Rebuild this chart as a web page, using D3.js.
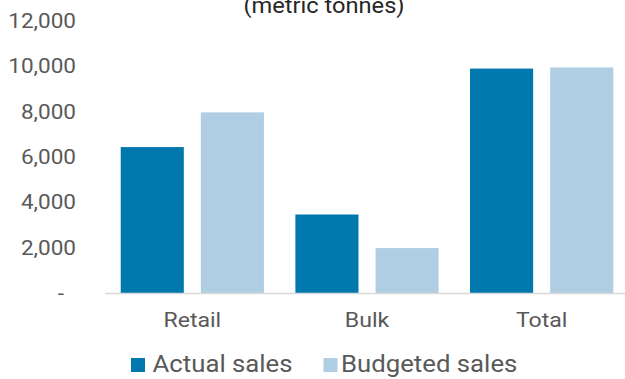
<!DOCTYPE html>
<html>
<head>
<meta charset="utf-8">
<script src="https://cdn.jsdelivr.net/npm/d3@7"></script>
<style>
  html, body { margin: 0; padding: 0; background: #fff; }
  svg { display: block; font-family: Roboto, "Noto Sans", sans-serif; }
</style>
</head>
<body>
<svg id="chart" width="625" height="379"></svg>
<script>
// Sales volume by channel, metric tonnes
const categories = ["Retail", "Bulk", "Total"];
const seriesNames = ["Actual sales", "Budgeted sales"];
const actualSales = [6430, 3460, 9890];
const budgetedSales = [7960, 1980, 9940];
const yTicks = [0, 2000, 4000, 6000, 8000, 10000, 12000];

const colors = ["#0077ad", "#b0cee3"];
const seriesValues = [actualSales, budgetedSales];

// text is set slightly wide
const WIDE = "scale(1.1,1)";

const svg = d3.select("#chart");

const x0 = d3.scaleBand()
  .domain(categories)
  .range([105, 629])
  .paddingInner(0.18)
  .paddingOuter(0.09);

const x1 = d3.scaleBand()
  .domain(seriesNames)
  .range([0, x0.bandwidth()])
  .paddingInner(0.2125)
  .paddingOuter(0);

const y = d3.scaleLinear()
  .domain([0, 12000])
  .range([293, 20.7]);

// Title (second line of the heading)
svg.append("g")
  .attr("transform", "translate(324,12.7)")
  .append("text")
  .attr("transform", WIDE)
  .attr("text-anchor", "middle")
  .attr("font-size", 21.5)
  .attr("fill", "#262626")
  .text("(metric tonnes)");

// Y axis labels, zero shown as a dash
const fmt = d3.format(",");
const yAxis = d3.axisLeft(y)
  .tickValues(yTicks)
  .tickSize(0)
  .tickPadding(0)
  .tickFormat(d => d === 0 ? "-" : fmt(d));

const yg = svg.append("g")
  .attr("transform", "translate(76,0)")
  .call(yAxis);
yg.select(".domain").remove();
yg.selectAll("text")
  .attr("font-size", 20.5)
  .attr("font-family", "Roboto, sans-serif")
  .attr("fill", "#595959")
  .attr("transform", WIDE)
  .attr("dx", d => d === 0 ? -11 : 0);

// Bars
const groups = svg.append("g")
  .selectAll("g")
  .data(categories)
  .join("g")
  .attr("transform", d => `translate(${x0(d)},0)`);

groups.selectAll("rect")
  .data((c, i) => seriesNames.map((s, j) => ({ series: s, value: seriesValues[j][i], color: colors[j] })))
  .join("rect")
  .attr("x", d => x1(d.series))
  .attr("y", d => y(d.value))
  .attr("width", x1.bandwidth())
  .attr("height", d => y(0) - y(d.value))
  .attr("fill", d => d.color);

// Category axis
const xAxis = d3.axisBottom(x0).tickSize(0).tickPadding(0);
const xg = svg.append("g")
  .attr("transform", `translate(0,${y(0)})`)
  .call(xAxis);
xg.select(".domain")
  .attr("d", "M105,0.5H625")
  .attr("stroke", "#d9d9d9")
  .attr("stroke-width", 1.5);
xg.selectAll("text")
  .attr("font-size", 21)
  .attr("font-family", "Roboto, sans-serif")
  .attr("fill", "#595959")
  .attr("dy", 0)
  .attr("y", 34)
  .attr("transform", WIDE);

// Legend
const swatchX = [131, 323.5];
const labelX = [152.5, 341];
const legend = svg.append("g")
  .selectAll("g")
  .data(seriesNames)
  .join("g");
legend.append("rect")
  .attr("x", (d, i) => swatchX[i])
  .attr("y", 358)
  .attr("width", 14)
  .attr("height", 14)
  .attr("fill", (d, i) => colors[i]);
legend.append("g")
  .attr("transform", (d, i) => `translate(${labelX[i]},372.3)`)
  .append("text")
  .attr("transform", "scale(1.11,1)")
  .attr("font-size", 23.2)
  .attr("fill", "#595959")
  .text(d => d);
</script>
</body>
</html>
